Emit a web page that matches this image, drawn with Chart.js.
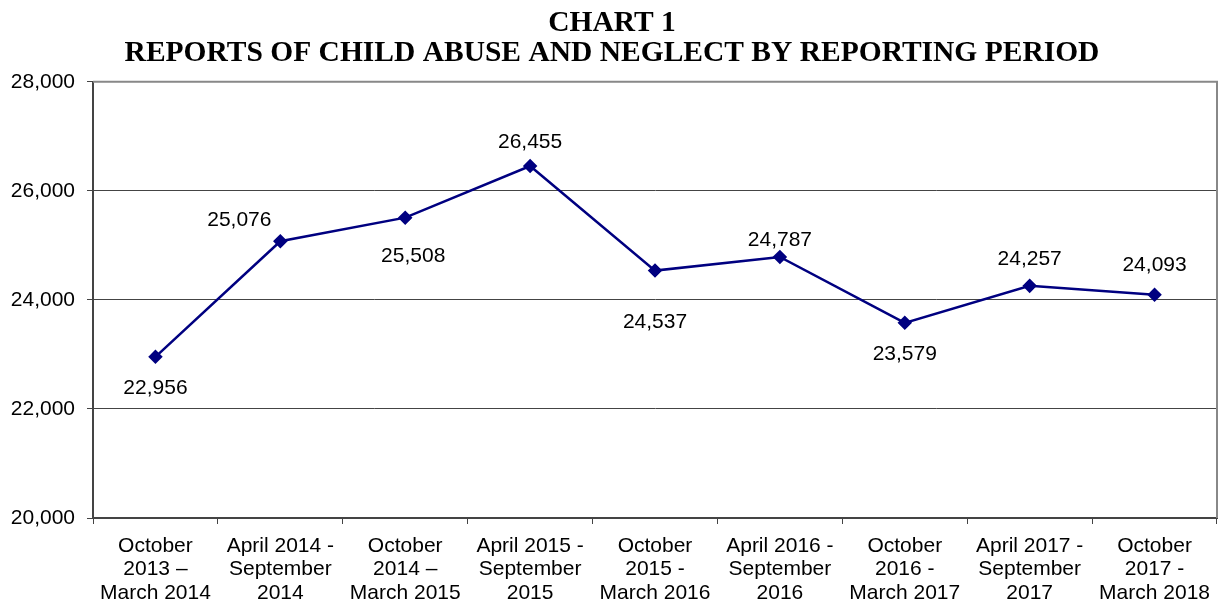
<!DOCTYPE html>
<html>
<head>
<meta charset="utf-8">
<script src="https://cdn.jsdelivr.net/npm/chart.js@4"></script>
<style>
html,body{margin:0;padding:0;background:#fff;}
#wrap{width:1225px;height:609px;}
</style>
</head>
<body>
<div id="wrap"><canvas id="c" width="1225" height="609"></canvas></div>
<script>
const titleLines = ['CHART 1', 'REPORTS OF CHILD ABUSE AND NEGLECT BY REPORTING PERIOD'];
const categories = [
  ['October', '2013 \u2013', 'March 2014'],
  ['April 2014 -', 'September', '2014'],
  ['October', '2014 \u2013', 'March 2015'],
  ['April 2015 -', 'September', '2015'],
  ['October', '2015 -', 'March 2016'],
  ['April 2016 -', 'September', '2016'],
  ['October', '2016 -', 'March 2017'],
  ['April 2017 -', 'September', '2017'],
  ['October', '2017 -', 'March 2018']
];
const reports = [22956, 25076, 25508, 26455, 24537, 24787, 23579, 24257, 24093];
const yTicks = [20000, 22000, 24000, 26000, 28000];
// label placement (style): dx, dy offsets from point in px
const labelOffsets = [[0,31],[-41,-21],[8,39],[0,-24],[0,52],[0,-17],[0,31],[0,-27],[0,-30]];

const fmt = v => v.toLocaleString('en-US');

const labelPlugin = {
  id: 'pointLabels',
  afterDatasetsDraw(chart) {
    const ctx = chart.ctx;
    const meta = chart.getDatasetMeta(0);
    ctx.save();
    ctx.font = '21px "Liberation Sans", Arial, sans-serif';
    ctx.fillStyle = '#000';
    ctx.textAlign = 'center';
    ctx.textBaseline = 'middle';
    meta.data.forEach((pt, i) => {
      const o = labelOffsets[i];
      ctx.fillText(fmt(reports[i]), pt.x + o[0], pt.y + o[1]);
    });
    ctx.restore();
  }
};
const borderPlugin = {
  id: 'rightBorder',
  beforeDatasetsDraw(chart) {
    const a = chart.chartArea, ctx = chart.ctx;
    ctx.save();
    ctx.strokeStyle = '#888';
    ctx.lineWidth = 2;
    ctx.beginPath();
    ctx.moveTo(a.left, a.top);
    ctx.lineTo(a.right, a.top);
    ctx.lineTo(a.right, a.bottom);
    ctx.stroke();
    ctx.restore();
  }
};

new Chart(document.getElementById('c'), {
  type: 'line',
  data: {
    labels: categories,
    datasets: [{
      data: reports,
      borderColor: '#000080',
      backgroundColor: '#000080',
      borderWidth: 2.5,
      pointStyle: 'rectRot',
      pointRadius: 5.5,
      pointHoverRadius: 5.5,
      tension: 0,
      fill: false
    }]
  },
  options: {
    responsive: false,
    animation: false,
    devicePixelRatio: 1,
    layout: { padding: { left: 0, right: 1, top: 0, bottom: 0 } },
    plugins: {
      legend: { display: false },
      tooltip: { enabled: false },
      title: {
        display: true,
        text: titleLines,
        color: '#000',
        font: { family: '"Liberation Serif", "Times New Roman", serif', size: 29.5, weight: 'bold', lineHeight: 1.03 },
        padding: { top: 8, bottom: 13 }
      }
    },
    scales: {
      x: {
        offset: true,
        grid: { offset: true, drawOnChartArea: false, drawTicks: true, tickLength: 6, color: '#444', lineWidth: 1 },
        border: { display: true, color: '#444', width: 2 },
        ticks: {
          color: '#000', maxRotation: 0, autoSkip: false, padding: 11,
          font: { family: '"Liberation Sans", Arial, sans-serif', size: 21, lineHeight: 1.1 }
        },
        afterFit(s) { s.height = 91; }
      },
      y: {
        min: 20000, max: 28000,
        afterBuildTicks(s) { s.ticks = yTicks.map(v => ({ value: v })); },
        grid: { color: '#444', lineWidth: 1, tickLength: 6 },
        border: { display: true, color: '#444', width: 2 },
        ticks: {
          color: '#000', padding: 12,
          font: { family: '"Liberation Sans", Arial, sans-serif', size: 21 },
          callback: v => fmt(v)
        },
        afterFit(s) { s.width = 93; }
      }
    }
  },
  plugins: [borderPlugin, labelPlugin]
});
</script>
</body>
</html>
